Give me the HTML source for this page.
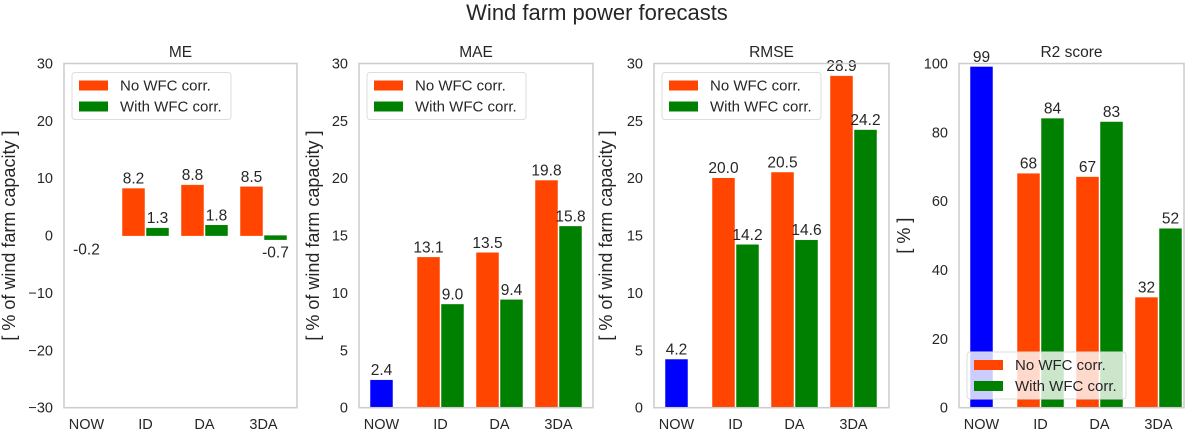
<!DOCTYPE html>
<html><head><meta charset="utf-8"><style>
body{margin:0;background:#fff;}
svg{display:block;font-family:"Liberation Sans",Arial,sans-serif;}
</style></head><body>
<svg id="chart" width="1194" height="433">
<text x="597" y="20" text-anchor="middle" font-size="22" fill="#262626">Wind farm power forecasts</text>
</svg>
<script>
const categories = ["NOW","ID","DA","3DA"];
const meNo = [8.2, 8.8, 8.5];
const meWith = [1.3, 1.8, -0.7];
const meNow = -0.2;
const maeNo = [13.1, 13.5, 19.8];
const maeWith = [9.0, 9.4, 15.8];
const maeNow = 2.4;
const rmseNo = [20.0, 20.5, 28.9];
const rmseWith = [14.2, 14.6, 24.2];
const rmseNow = 4.2;
const r2No = [68, 67, 32];
const r2With = [84, 83, 52];
const r2Now = 99;
const meTicks = [-30,-20,-10,0,10,20,30];
const errTicks = [0,5,10,15,20,25,30];
const r2Ticks = [0,20,40,60,80,100];

const NS="http://www.w3.org/2000/svg";
const svg=document.getElementById('chart');
function mk(tag,attrs,parent){const e=document.createElementNS(NS,tag);for(const k in attrs)e.setAttribute(k,attrs[k]);(parent||svg).appendChild(e);return e;}

const panels=[
 {title:"ME",left:64,right:297,ymin:-30,ymax:30,ticks:meTicks,now:meNow,no:meNo,wi:meWith,dec:1,ylabel:"[ % of wind farm capacity ]",ylx:15,legend:"top",nowDrawn:false},
 {title:"MAE",left:359,right:593,ymin:0,ymax:30,ticks:errTicks,now:maeNow,no:maeNo,wi:maeWith,dec:1,ylabel:"[ % of wind farm capacity ]",ylx:319,legend:"top",nowDrawn:true},
 {title:"RMSE",left:654,right:889,ymin:0,ymax:30,ticks:errTicks,now:rmseNow,no:rmseNo,wi:rmseWith,dec:1,ylabel:"[ % of wind farm capacity ]",ylx:612,legend:"top",nowDrawn:true},
 {title:"R2 score",left:959,right:1184,ymin:0,ymax:100,ticks:r2Ticks,now:r2Now,no:r2No,wi:r2With,dec:0,ylabel:"[ % ]",ylx:910,legend:"bottom",nowDrawn:true}
];
const TOP=63.5,BOT=407.7,UNIT=59,BW=22;
panels.forEach((p,pi)=>{
  const g=mk('g',{});
  
  
  const y=v=>BOT-(v-p.ymin)/(p.ymax-p.ymin)*(BOT-TOP);
  const x=i=>p.left+22.5+i*UNIT;
  const t=mk('text',{x:(p.left+p.right)/2,y:57,'text-anchor':'middle','font-size':15.5,fill:'#262626'},g);t.textContent=p.title;
  
  
  p.ticks.forEach(v=>{const tt=mk('text',{x:p.left-11,y:y(v)+5,'text-anchor':'end','font-size':14.5,fill:'#262626'},g);tt.textContent=(v<0?'\u2212'+(-v):v);
    
    });
  categories.forEach((c,i)=>{const tt=mk('text',{x:x(i),y:433-4,'text-anchor':'middle','font-size':14.5,fill:'#262626'},g);tt.textContent=c;
    
    });
  const yl=mk('text',{x:0,y:0,'text-anchor':'middle','font-size':18,fill:'#262626',transform:`translate(${p.ylx},${(TOP+BOT)/2}) rotate(-90)`},g);yl.textContent=p.ylabel;
  
  
  const lab=(v,cx)=>{const s=v.toFixed(p.dec);const ty=v>=0?y(v)-5:y(v)+18;const tt=mk('text',{x:cx,y:ty,'text-anchor':'middle','font-size':15.5,fill:'#262626'},g);tt.textContent=s;
    
    };
  const bar=(v,cx,col,name)=>{const y0=y(0),y1=y(v);const r=mk('rect',{x:cx-BW/2,y:Math.min(y0,y1),width:BW,height:Math.max(Math.abs(y1-y0),0.5),fill:col,stroke:col,'stroke-width':0.5},g);
    
    };
  if(p.nowDrawn) bar(p.now,x(0),'#0000ff','bar-now');
  lab(p.now,x(0));
  p.no.forEach((v,i)=>{bar(v,x(i+1)-12,'#ff4500','bar-no-corr');lab(v,x(i+1)-12);});
  p.wi.forEach((v,i)=>{bar(v,x(i+1)+12,'#008000','bar-with-corr');lab(v,x(i+1)+12);});
  const f=mk('rect',{x:p.left,y:TOP,width:p.right-p.left,height:BOT-TOP,fill:'none',stroke:'#cccccc','stroke-width':1.5},g);
  
  
  const ly=p.legend==='top'?TOP+9:352;
  const lg=mk('g',{},g);
  
  
  mk('rect',{x:p.left+8,y:ly,width:159,height:47,rx:3,fill:'#fff','fill-opacity':p.legend==='top'?1:0.8,stroke:'#dddddd','stroke-width':1},lg);
  [['No WFC corr.','#ff4500'],['With WFC corr.','#008000']].forEach((e,k)=>{
    mk('rect',{x:p.left+15,y:ly+8+k*21,width:29,height:10,fill:e[1]},lg);
    const tt=mk('text',{x:p.left+56,y:ly+18+k*21,'font-size':15,fill:'#262626'},lg);tt.textContent=e[0];
    
    
  });
});
</script>
</body></html>
